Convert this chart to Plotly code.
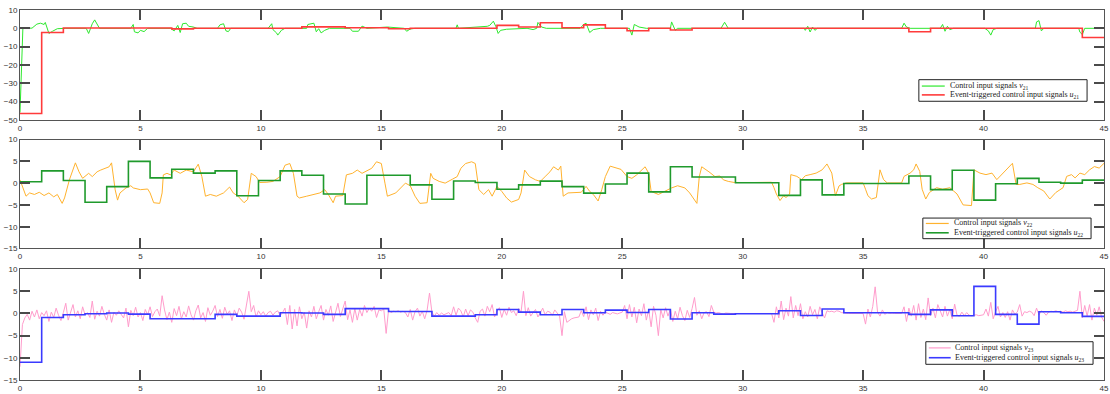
import plotly.graph_objects as go

# ---------------- data ----------------
# Panel 1: v21 (continuous) breakpoints
T21 = [0, 0.07, 0.12, 0.5, 0.7, 0.85, 1.0, 1.05, 1.2, 1.35, 1.55, 1.9, 2.75, 2.85, 2.9, 3.0, 3.1, 3.2, 3.3,
       4.6, 4.7, 4.75, 4.9, 5.0, 5.15, 5.3, 6.25, 6.4, 6.55, 6.65, 6.75, 6.9, 7.0, 7.2, 7.35,
       8.2, 8.3, 8.45, 8.55, 8.65, 8.75, 10.3, 10.45, 10.5, 10.65, 10.7, 10.85, 11.0,
       11.9, 11.95, 12.1, 12.2, 12.3, 12.4, 12.5, 12.65, 12.85, 13.7, 13.8, 14.05, 14.2, 14.4,
       15.25, 15.95, 16.05, 16.2, 16.4, 18.1, 18.15, 18.2, 19.4, 19.5, 19.65, 19.75, 19.85, 19.95, 20.2,
       21.05, 21.3, 21.45, 21.5, 21.65, 21.85, 23.25, 23.4, 23.5, 23.65, 23.8, 24.1,
       25.3, 25.4, 25.5, 25.7, 26.0, 27.0, 27.05, 27.2, 27.3, 29.1, 29.25, 29.4,
       32.55, 32.6, 32.7, 32.8, 32.9, 33.0, 33.1, 36.6, 36.7, 36.8, 36.95,
       38.2, 38.3, 38.4, 38.5, 38.6, 38.75, 40.05, 40.2, 40.3, 40.4, 40.55,
       42.15, 42.2, 42.3, 42.4, 42.5, 43.95, 44.0, 44.1, 44.2, 45]
V21 = [-46, -20, 0, 0.1, 2.3, 2.8, 2.1, 3.2, -2.8, -1.6, -0.2, 0, 0, -2.8, -1.1, 2.5, 4.6, 2.1, 0,
       0, 2.1, -1.9, -2.5, -1.1, -1.8, 0, 0, -1.4, 1.6, -2.3, 2.5, 2.8, 1.1, 0.7, 0,
       0, 1.9, 2.5, -1.4, -1.8, 0, 0, 2.5, -0.7, -2.5, -3.7, -1.1, 0,
       0, 2.1, 2.5, 2.8, -1.9, -0.2, -2.5, -1.1, 0, 0, -1.6, -1.6, 1.2, 0,
       0.7, 0, -1.6, -0.4, 0, 0, 1.9, 0, 1.1, 1.6, 3.9, 1.1, -2.8, -1.1, -0.5,
       0, -0.7, 0, 3.2, 0.7, 0, 0, 2.1, 2.8, -2.3, -0.7, 0,
       0, -3.7, 2.1, 0.7, 0, 0, 3.5, -1.1, 0, 0, 3.3, 0,
       0, -1.1, 1.1, -2.0, 0.7, -1.1, 0, 0, 2.8, 0.7, 0,
       0, 2.1, -1.6, 1.1, -0.7, 0, 0, -1.4, -3.7, -0.7, 0,
       0, 3.5, 4.2, -1.4, 0, 0, -2.1, -3.4, 0, 0]

# Panel 1: u21 (event-triggered, held)
TU21 = [0, 0.9, 1.8, 6.3, 7.2, 11.7, 13.5, 15.3, 16.2, 19.8, 20.7, 21.6, 22.5, 23.4, 24.3, 25.2,
        26.1, 27.0, 27.9, 36.9, 37.8, 44.1, 45]
U21 = [-46.5, -2.3, 0.2, -0.3, 0.0, 0.8, 0.3, -0.2, 0.0, 1.6, 0.7, 3.0, 0.3, 1.9, 0.0, -1.3,
       0.0, -0.9, 0.0, -1.9, 0.0, -5.0, -5.0]

# Panel 2: v22 breakpoints
T22 = [0, 0.25, 0.4, 0.6, 0.8, 1.0, 1.2, 1.4, 1.55, 1.75, 1.85, 2.05, 2.3, 2.45, 2.6, 2.7, 2.85, 3.0, 3.2,
       3.35, 3.55, 3.7, 3.8, 3.95, 4.05, 4.15, 4.4, 4.6, 4.7, 5.0, 5.3, 5.4, 5.55, 5.8, 5.9, 5.95,
       6.1, 6.25, 6.4, 6.65, 6.9, 7.2, 7.4, 7.55, 7.7, 7.9, 8.15, 8.45, 8.7, 8.85, 9.05, 9.3, 9.45,
       9.6, 9.8, 9.95, 10.25, 10.5, 10.8, 11.0, 11.2, 11.35, 11.5, 11.6, 11.9, 12.2, 12.45, 12.65,
       12.8, 13.0, 13.1, 13.4, 13.55, 13.8, 14.0, 14.2, 14.4, 14.6, 14.8, 15.0, 15.15, 15.25, 15.6,
       15.85, 16.0, 16.2, 16.4, 16.6, 16.9, 17.05, 17.15, 17.4, 17.65, 17.95, 18.15, 18.3, 18.5,
       18.75, 18.9, 19.05, 19.25, 19.45, 19.6, 19.8, 20.0, 20.2, 20.4, 20.7, 20.8, 20.95, 21.15,
       21.4, 21.6, 21.8, 22.0, 22.15, 22.35, 22.45, 22.55, 22.75, 23.05, 23.3, 23.5, 23.65, 23.8,
       24.0, 24.15, 24.3, 24.5, 24.7, 24.95, 25.2, 25.4, 25.6, 25.8, 25.95, 26.1, 26.2, 26.5,
       26.75, 27.05, 27.3, 27.6, 27.8, 27.95, 28.1, 28.2, 28.3, 28.6, 28.85, 29.05, 29.2, 29.4,
       29.65, 30.5, 31.2, 31.3, 31.4, 31.55, 31.7, 31.8, 31.95, 32.0, 32.25, 32.45, 32.6, 32.8,
       33.05, 33.3, 33.4, 33.5, 33.7, 33.85, 34.0, 34.1, 34.3, 35.0, 35.1, 35.2, 35.35, 35.55,
       35.7, 35.85, 36.0, 36.6, 36.7, 36.95, 37.1, 37.2, 37.35, 37.45, 37.6, 37.75, 38.05, 38.3,
       38.6, 38.9, 39.15, 39.5, 39.6, 39.85, 40.1, 40.35, 40.55, 40.8, 41.0, 41.2, 41.35, 41.5,
       41.8, 42.05, 42.25, 42.5, 42.75, 43.0, 43.3, 43.45, 43.65, 43.8, 44.0, 44.2, 44.4, 44.6,
       44.8, 45.0]
V22 = [0.75, -3.0, -2.25, -2.6, -2.1, -2.85, -2.25, -3.15, -2.6, -4.65, -3.4, 0.75, 4.65, 2.6, 1.1,
       1.5, 2.25, 1.5, 2.6, 3.0, 3.4, 3.75, 4.65, -1.5, -3.9, -2.25, -1.1, -0.6, -1.1, -1.5, -1.35,
       -2.25, -4.5, -4.65, -2.25, 1.9, 2.25, 1.9, 3.0, 2.25, 3.0, 2.6, 4.35, 1.5, -3.0, -2.6, -3.0,
       -2.25, -0.9, -2.25, -3.0, -4.5, -3.75, 2.25, 1.5, 0.15, 0.2, 0.4, 1.5, 4.1, 4.5, 2.25, -3.0,
       -3.4, -3.0, -2.6, -2.25, -1.5, -2.6, -4.5, -3.0, -2.85, 1.9, 2.25, 3.0, 2.25, 2.8, 3.4, 4.9,
       4.5, 0.0, -3.0, -2.25, -0.75, 0.0, -0.6, -3.0, -4.65, -4.5, 2.25, 1.1, 0.4, 0.0, 0.9, 1.5,
       3.4, 4.5, 4.9, 4.5, -1.5, -2.6, -1.5, -3.0, -0.75, -1.9, -3.4, -4.35, -3.75, -2.25, 3.0, 1.5,
       0.75, 0.4, 1.5, 2.6, 3.75, 3.0, 3.9, -3.0, -2.25, -2.25, -2.1, -0.75, -1.9, -2.6, -4.1, -1.5,
       1.5, 3.9, 3.6, 3.15, 1.5, 1.1, 1.9, 3.0, 3.75, 2.25, -1.9, -2.6, -1.9, -1.1, -0.6, -1.1,
       -2.25, -3.4, -4.65, 1.5, 3.75, 2.6, 1.5, 1.65, 0.75, 0.4, 0.15, 0.15, 0.2, -1.05, -2.5, -4.0,
       -2.9, -3.3, -2.5, 1.95, 1.55, 0.8, 1.7, 1.95, 2.3, 3.05, 3.8, 4.4, 2.3, -2.9, -0.65, -0.3,
       0.05, 0.05, -1.4, -2.9, -3.65, -3.3, 3.05, 0.8, 0.05, 0.05, 1.55, 2.3, 3.05, 4.4, 2.7, -1.4,
       -3.65, -2.15, -1.05, -1.4, -1.05, -2.5, -5.0, -5.15, 3.05, 2.3, 1.95, 2.3, 0.8, 2.3, 3.45,
       4.55, -0.3, -0.3, 0.05, -0.3, -1.05, -1.8, -3.65, -2.15, -1.05, 1.55, 1.95, 1.2, 2.3, 1.95,
       3.05, 3.8, 3.45, 4.55]

# Panel 2: u22 (event-triggered, held)
TU22 = [0, 0.9, 1.8, 2.7, 3.6, 4.5, 5.4, 6.3, 7.2, 8.1, 9.0, 9.9, 10.8, 11.7, 12.6, 13.5, 14.4,
        16.2, 17.1, 18.0, 18.9, 19.8, 20.7, 21.6, 22.5, 23.4, 24.3, 25.2, 26.1, 27.0, 27.9, 29.7,
        31.5, 32.4, 33.3, 34.2, 36.9, 37.8, 38.7, 39.6, 40.5, 41.4, 42.3, 43.2, 44.1, 45]
U22 = [0.3, 2.8, 0.6, -4.4, -0.8, 5.0, 1.2, 3.2, 2.3, 2.8, -2.9, 0.6, 2.8, 1.8, -2.5, -4.8, 1.8,
       -0.4, -3.7, 0.5, 0.15, -1.4, -0.4, 0.45, -0.8, -2.3, -0.2, 2.3, -2.0, 3.75, 1.4, 0.1,
       -2.8, 0.75, -2.7, -0.1, 1.65, -1.5, 2.95, -3.9, -0.15, 1.1, 0.2, 0.0, 0.7, 0.7]

# Panel 3: v23 sampled every 0.1 s (t = 0.0 ... 45.0)
V23 = [
    -12, -2.5, -1.0, -0.2, -1.5, 0.5, -0.8, 0.8, -1.2, 0.2,
    -0.5, 0.6, -1.8, 0.3, -0.9, 1.2, -0.4, -1.6, 0.2, 2.3,
    -1.5, 0.4, 2.0, -0.8, 0.6, -1.2, 1.5, -0.3, 0.2, -0.9,
    2.8, -1.3, 0.5, -0.6, 1.6, -0.2, -1.5, 0.8, -2.0, 0.3,
    -0.4, 0.6, -0.3, -1.0, 1.2, -3.0, 0.7, -0.5, 1.4, -0.8,
    0.2, -1.6, 0.9, -0.3, 1.5, -0.7, 0.4, 1.0, -0.6, 4.0,
    0.8, -1.4, 0.3, -2.0, 1.1, -0.5, 1.6, -1.2, 0.4, -0.8,
    1.7, -0.3, -1.5, 0.6, 1.9, -1.0, 0.2, -1.8, 1.3, -0.4,
    0.5, 1.8, -0.7, 0.9, -1.1, 1.4, -0.2, 0.6, -1.6, 0.8,
    -0.5, 1.2, 0.3, -1.3, 1.9, 5.0, 0.4, 1.8, -0.8, 0.6,
    -0.3, 0.4, -0.6, 0.2, 0.5, -0.4, 0.3, 0.6, -0.5, 0.2,
    1.2, -2.5, 1.8, -3.5, 0.9, -2.8, 1.5, -1.2, 0.3, -3.3,
    0.6, -0.8, 1.6, -1.2, 0.4, 1.8, -1.5, 0.9, -0.4, 1.7,
    -1.8, 0.5, 2.3, -0.7, 1.2, 2.8, -1.4, 0.8, -2.0, 1.1,
    -1.5, 0.9, -0.6, 1.8, 0.2, 1.2, 0.5, 1.6, -0.9, 0.8,
    0.6, 1.0, -4.5, 0.8, 0.2, 0.5, 0.4, 0.6, 0.3, 0.5,
    0.2, -0.8, 0.9, -1.5, 0.4, 1.2, -0.6, 0.5, -1.2, 0.7,
    4.6, 0.3, -0.6, 0.2, -0.4, 0.1, -0.3, 0.0, 0.2, -0.5,
    1.5, -0.4, 1.2, 0.6, -0.8, 1.0, -0.5, 0.8, 0.3, -1.0,
    -2.0, 0.5, 1.0, -0.6, 1.6, 0.4, 2.0, -0.8, 0.5, 1.3,
    -0.9, 0.9, -0.4, 1.4, 0.2, 0.6, -0.5, 1.1, 0.3, 5.0,
    -0.5, 1.3, -0.6, 0.2, 0.9, -0.8, 0.4, 1.2, -0.3, 0.5,
    0.3, -0.4, 0.8, 0.1, -0.6, -5.0, 0.4, -2.0, -1.5, -1.2,
    -1.0, -0.9, -0.8, 0.6, -0.7, 1.5, -1.4, 0.8, -0.3, 1.2,
    -1.6, 0.5, -0.4, 0.3, 0.1, -0.2, 0.2, 0.0, -0.1, 0.1,
    0.3, 1.8, -1.2, 2.0, -0.8, 1.4, -2.1, 1.0, -0.5, 2.2,
    -1.5, 0.8, -3.0, 1.6, -0.4, -5.0, 0.9, -1.0, 1.3, -0.6,
    1.0, -1.8, 0.5, -1.2, 1.4, -0.5, -1.6, 0.7, -0.9, 1.1,
    3.6, -0.4, 0.6, -1.2, 0.2, 0.4, -0.7, 1.8, 0.3, 0.1,
    0.2, 0.0, -0.1, 0.1, 0.0, 0.0, 0.0, 0.0, 0.0, 0.0,
    0.0, 0.0, 0.0, 0.0, 0.0, 0.0, 0.0, 0.0, 0.0, 0.0,
    0.0, 0.0, 0.0, -2.0, 1.5, -1.0, 2.8, -1.4, 1.2, -0.6,
    3.8, -1.0, 1.8, -0.5, 2.2, -1.2, 0.4, -0.8, 1.6, -0.3,
    0.9, -1.2, 1.5, 0.2, -1.0, 0.6, 0.4, 0.5, 0.3, 0.6,
    0.5, 0.2, 0.1, 0.0, 0.0, 0.0, 0.0, 0.0, 0.0, 0.0,
    0.0, -2.4, 1.0, -0.8, 1.6, 6.0, 0.3, -0.6, 0.8, -0.2,
    0.2, 0.0, 0.1, 0.0, 0.0, 0.0, 0.0, 1.5, -1.8, 1.2,
    -0.6, 1.8, -1.5, 2.2, -0.9, 1.0, -1.4, 3.5, -0.5, 1.2,
    -1.0, 2.0, 0.4, -0.8, 1.6, -0.6, 0.9, -1.2, 2.1, -0.4,
    -0.6, 0.3, -0.5, 0.2, -0.4, -0.5, -0.4, -0.3, -0.5, -0.4,
    -0.3, 1.0, -0.6, 2.5, -1.2, 0.4, 1.6, -0.8, 0.2, -0.9,
    0.4, -1.5, 0.8, -0.2, 0.3, 2.0, -0.6, 0.4, 0.2, 0.5,
    0.3, -0.5, 1.2, -0.3, 0.6, 0.2, -0.4, 0.3, 0.5, 0.4,
    0.6, 0.4, 0.5, 0.3, 0.6, 0.4, 0.5, 0.3, 0.5, 0.7,
    5.0, -1.0, 1.8, -0.6, 2.0, -1.5, 1.2, -0.4, 1.5, -0.8,
    -1.8]
T23 = [round(i * 0.1, 1) for i in range(len(V23))]

# Panel 3: u23 (event-triggered, held)
TU23 = [0, 0.9, 1.8, 2.7, 3.6, 4.5, 5.4, 8.1, 9.0, 10.8, 11.7, 12.6, 13.5, 15.3, 17.1, 18.9, 19.8,
        20.7, 21.6, 22.5, 23.4, 24.3, 25.2, 26.1, 27.0, 27.9, 28.8, 29.7, 31.5, 32.4, 33.3, 34.2,
        36.9, 37.8, 38.7, 39.6, 40.5, 41.4, 42.3, 43.2, 44.1, 45]
U23 = [-11.0, -0.9, -0.3, -0.05, 0.1, -0.15, -1.2, -0.2, -0.6, 0.15, 0.1, -0.2, 1.1, 0.45, -0.6,
       -0.3, 0.9, 0.3, -0.3, 0.9, 0.15, 0.75, 0.2, 0.9, -1.25, 0.15, -0.15, -0.05, 0.6, -0.45, 1.0,
       0.15, -0.2, 0.8, -0.5, 6.1, -0.2, -2.4, 0.4, 0.15, -0.65, -0.65]

Y_RANGES = [[-50, 10], [-15, 10], [-15, 10]]
Y_DTICK = [10, 5, 5]
LEG_NAMES = [
    ("Control input signals <i>v</i><sub>21</sub>", "Event-triggered control input signals <i>u</i><sub>21</sub>"),
    ("Control input signals <i>v</i><sub>22</sub>", "Event-triggered control input signals <i>u</i><sub>22</sub>"),
    ("Control input signals <i>v</i><sub>23</sub>", "Event-triggered control input signals <i>u</i><sub>23</sub>"),
]

# ---------------- figure ----------------
W, H = 1110, 394
ML, MR, MT, MB = 20, 1, 10, 7
PW, PH = W - ML - MR, H - MT - MB


def px_x(px):
    return (px - ML) / PW


def px_y(py):
    return (H - MB - py) / PH


fig = go.Figure()
domains = [[px_y(122), px_y(10)], [px_y(253), px_y(142)], [px_y(387), px_y(274)]]
cont_colors = ["#2ee82e", "#ffb22e", "#ff9ccc"]
step_colors = ["#ff3b3b", "#1f9a2c", "#3a3aff"]
conts = [(T21, V21), (T22, V22), (T23, V23)]
steps = [(TU21, U21), (TU22, U22), (TU23, U23)]

for i in range(3):
    xa = "x" if i == 0 else f"x{i+1}"
    ya = "y" if i == 0 else f"y{i+1}"
    fig.add_trace(go.Scatter(x=conts[i][0], y=conts[i][1], mode="lines",
                             line=dict(color=cont_colors[i], width=1),
                             name=LEG_NAMES[i][0], xaxis=xa, yaxis=ya, showlegend=False))
    fig.add_trace(go.Scatter(x=steps[i][0], y=steps[i][1], mode="lines",
                             line=dict(color=step_colors[i], width=1.6, shape="hv"),
                             name=LEG_NAMES[i][1], xaxis=xa, yaxis=ya, showlegend=False))

axis_common = dict(showgrid=False, zeroline=False, showline=True, linecolor="#555", linewidth=1,
                   mirror="ticks", ticks="inside", ticklen=10, tickwidth=1.8, tickcolor="#4a4a4a",
                   ticklabeloverflow="allow",
                   tickfont=dict(family="Liberation Sans, Arial", size=8, color="#333"))
layout = {}
for i in range(3):
    xk = "xaxis" if i == 0 else f"xaxis{i+1}"
    yk = "yaxis" if i == 0 else f"yaxis{i+1}"
    ya = "y" if i == 0 else f"y{i+1}"
    xa = "x" if i == 0 else f"x{i+1}"
    layout[xk] = dict(axis_common, range=[0, 45], dtick=5, tick0=0, domain=[0, 1], anchor=ya)
    layout[yk] = dict(axis_common, range=Y_RANGES[i], dtick=Y_DTICK[i], tick0=0,
                      domain=domains[i], anchor=xa)

# hand-drawn compact legend boxes (pixel boxes: left, right, top, bottom, row1, row2, sample x0, x1, text x)
leg_boxes = [
    (923, 1092, 81, 103, 87.5, 96.5, 926, 949, 952),
    (927, 1096, 222, 243, 227.5, 237.0, 930, 953, 956),
    (930, 1098, 348, 371, 354.3, 364.3, 933, 955, 957),
]
shapes, annots = [], []
for i, (l, r, t, b, r1, r2, s0, s1, tx) in enumerate(leg_boxes):
    shapes.append(dict(type="rect", xref="paper", yref="paper", x0=px_x(l), x1=px_x(r),
                       y0=px_y(b), y1=px_y(t), line=dict(color="#222", width=1), fillcolor="white",
                       layer="above"))
    for row, col, wdt, name in [(r1, cont_colors[i], 1.2, LEG_NAMES[i][0]),
                                (r2, step_colors[i], 1.6, LEG_NAMES[i][1])]:
        shapes.append(dict(type="line", xref="paper", yref="paper", x0=px_x(s0), x1=px_x(s1),
                           y0=px_y(row), y1=px_y(row), line=dict(color=col, width=wdt), layer="above"))
        annots.append(dict(text=name, xref="paper", yref="paper", x=px_x(tx), y=px_y(row),
                           xanchor="left", yanchor="middle", showarrow=False,
                           font=dict(family="Liberation Serif, DejaVu Serif", size=8, color="#222")))

fig.update_layout(**layout)
fig.update_layout(width=W, height=H, margin=dict(l=ML, r=MR, t=MT, b=MB),
                  plot_bgcolor="white", paper_bgcolor="white", showlegend=False,
                  shapes=shapes, annotations=annots)

fig.write_html("out.html")
